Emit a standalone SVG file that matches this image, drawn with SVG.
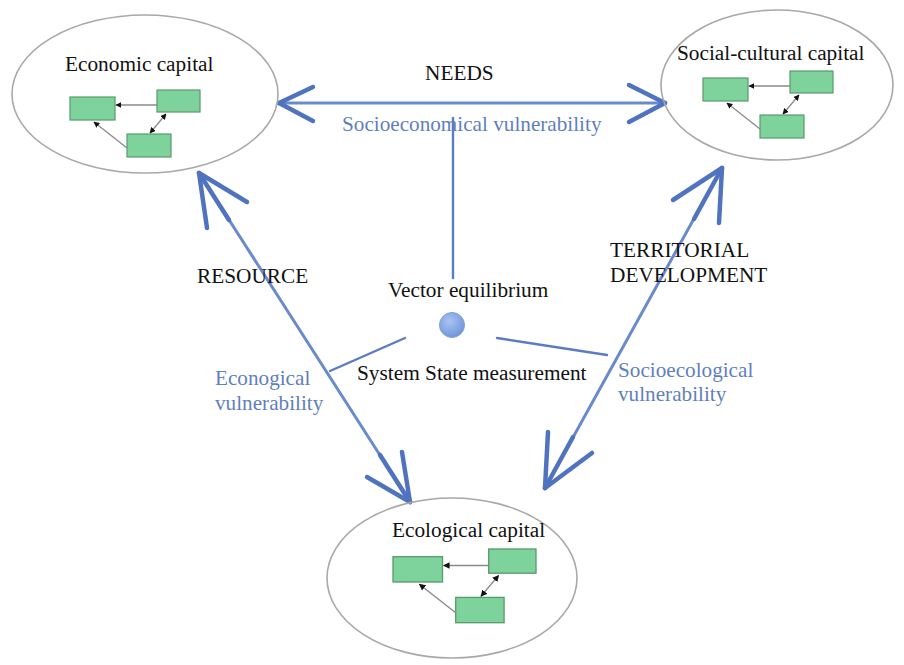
<svg xmlns="http://www.w3.org/2000/svg" width="904" height="665" viewBox="0 0 904 665">
<defs>
<style>
.ell{fill:none;stroke:#a8a8a8;stroke-width:1.6}
.box{fill:#7ed39c;stroke:#5b9a6c;stroke-width:1.2}
.mini{stroke:#8a8a8a;stroke-width:1.3;fill:none}
.shaft{stroke:#6a8bcb;stroke-width:3;fill:none;stroke-linecap:round}
.arm{stroke:#4f73bf;stroke-width:4.5;fill:none;stroke-linecap:round}
.thin{stroke:#5b7dc0;stroke-width:2.4;fill:none;stroke-linecap:round}
.t{font-family:"Liberation Serif","Times New Roman",serif;font-size:21.3px;fill:#111}
.b{font-family:"Liberation Serif","Times New Roman",serif;font-size:21.2px;fill:#5f7fbd}
</style>
<marker id="ah" viewBox="0 0 10 10" refX="9" refY="5" markerWidth="6" markerHeight="6" markerUnits="userSpaceOnUse" orient="auto-start-reverse">
<path d="M0,0 L10,5 L0,10 z" fill="#111"/>
</marker>
<radialGradient id="ball" cx="0.4" cy="0.35" r="0.7">
<stop offset="0" stop-color="#aac4f2"/>
<stop offset="1" stop-color="#6d93d8"/>
</radialGradient>
<g id="minidiag">
<rect class="box" x="0" y="7" width="45" height="23"/>
<rect class="box" x="87" y="0" width="43" height="22"/>
<rect class="box" x="57" y="44" width="44" height="23"/>
<line class="mini" x1="87" y1="15" x2="46" y2="15" marker-end="url(#ah)"/>
<line class="mini" x1="57" y1="58" x2="24" y2="32" marker-end="url(#ah)"/>
<line class="mini" x1="80" y1="43" x2="96" y2="24" marker-start="url(#ah)" marker-end="url(#ah)"/>
</g>
</defs>
<rect width="904" height="665" fill="#ffffff"/>

<g id="connectors">
<g id="needs-arrow">
<line class="shaft" x1="282" y1="103" x2="662" y2="103"/>
<line class="arm" x1="279" y1="103" x2="313" y2="87"/>
<line class="arm" x1="279" y1="103" x2="313" y2="121"/>
<line class="arm" x1="665" y1="103" x2="629" y2="85"/>
<line class="arm" x1="665" y1="103" x2="629" y2="122"/>
</g>
<g id="resource-arrow">
<line class="shaft" x1="199" y1="173" x2="410" y2="502"/>
<line class="arm" x1="199" y1="173" x2="229" y2="220"/>
<line class="arm" x1="199" y1="173" x2="207" y2="228"/>
<line class="arm" x1="199" y1="173" x2="247" y2="202"/>
<line class="arm" x1="410" y1="502" x2="380" y2="455"/>
<line class="arm" x1="410" y1="502" x2="402" y2="452"/>
<line class="arm" x1="410" y1="502" x2="367" y2="477"/>
</g>
<g id="territorial-arrow">
<line class="shaft" x1="722" y1="168" x2="545" y2="488"/>
<line class="arm" x1="722" y1="168" x2="694" y2="219"/>
<line class="arm" x1="722" y1="168" x2="673" y2="200"/>
<line class="arm" x1="722" y1="168" x2="719" y2="223"/>
<line class="arm" x1="545" y1="488" x2="573" y2="437"/>
<line class="arm" x1="545" y1="488" x2="548" y2="432"/>
<line class="arm" x1="545" y1="488" x2="592" y2="453"/>
</g>
<line class="thin" x1="453" y1="118" x2="453" y2="278"/>
<line class="thin" x1="405" y1="338" x2="330" y2="371"/>
<line class="thin" x1="497" y1="338" x2="607" y2="355"/>
</g>

<g id="economic">
<ellipse class="ell" cx="145" cy="94" rx="133" ry="79"/>
<text class="t" x="65" y="71">Economic capital</text>
<use href="#minidiag" transform="translate(70,90)"/>
</g>

<g id="social">
<ellipse class="ell" cx="777" cy="85" rx="116" ry="75"/>
<text class="t" x="677" y="60">Social-cultural capital</text>
<use href="#minidiag" transform="translate(703,71)"/>
</g>

<g id="ecological">
<ellipse class="ell" cx="452" cy="578" rx="125" ry="80"/>
<text class="t" x="392" y="537">Ecological capital</text>
<use href="#minidiag" transform="translate(393,549) scale(1.1)"/>
</g>

<g id="equilibrium">
<circle cx="452" cy="325" r="12.5" fill="url(#ball)" stroke="#7f9fd8" stroke-width="1"/>
<text class="t" x="388" y="297">Vector equilibrium</text>
<text class="t" x="357" y="380">System State measurement</text>
</g>

<g id="labels">
<text class="t" x="425" y="80">NEEDS</text>
<text class="b" x="342" y="131">Socioeconomical vulnerability</text>
<text class="t" x="197" y="283">RESOURCE</text>
<text class="b" x="215" y="385">Econogical</text>
<text class="b" x="215" y="410">vulnerability</text>
<text class="t" x="610" y="257">TERRITORIAL</text>
<text class="t" x="610" y="282">DEVELOPMENT</text>
<text class="b" x="618" y="377">Socioecological</text>
<text class="b" x="618" y="401">vulnerability</text>
</g>
</svg>
